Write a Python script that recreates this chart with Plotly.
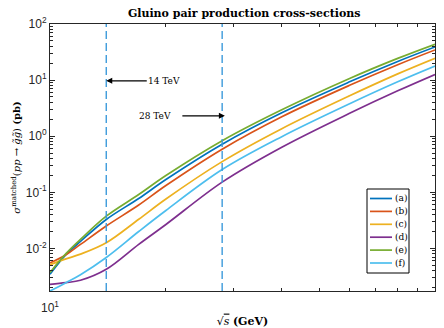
import numpy as np
import plotly.graph_objects as go

# sqrt(s) sample points
sqrt_s = [10, 11, 12, 14, 17, 20, 28, 40, 60, 80, 100]

# cross sections (pb)
sigma_a = [0.00347, 0.00773, 0.0133, 0.0328, 0.0774, 0.169, 0.721, 2.62, 9.31, 21.5, 39.0]
sigma_b = [0.0055, 0.00773, 0.01178, 0.0251, 0.0593, 0.132, 0.587, 2.22, 8.07, 18.8, 34.5]
sigma_c = [0.00513, 0.00650, 0.00790, 0.0126, 0.0330, 0.0759, 0.352, 1.36, 5.25, 12.9, 24.5]
sigma_d = [0.00229, 0.00245, 0.0027, 0.00424, 0.0118, 0.0267, 0.152, 0.637, 2.56, 6.44, 12.6]
sigma_e = [0.00372, 0.00805, 0.01445, 0.0375, 0.0912, 0.199, 0.832, 2.96, 10.7, 24.4, 43.6]
sigma_f = [0.00174, 0.00245, 0.0034, 0.0069, 0.02, 0.0474, 0.254, 0.98, 3.78, 9.31, 17.8]

series_names = ["(a)", "(b)", "(c)", "(d)", "(e)", "(f)"]
series_values = [sigma_a, sigma_b, sigma_c, sigma_d, sigma_e, sigma_f]
series_colors = ["#0072BD", "#D95319", "#EDB120", "#7E2F8E", "#77AC30", "#4DBEEE"]

# reference energies (vertical dashed lines)
vline_x = [14, 28]
vline_labels = ["14 TeV", "28 TeV"]
arrow_y = [9.7, 2.31]

y_min, y_max = 0.00174, 100
x_min, x_max = 10, 100

y_tickvals = [0.01, 0.1, 1, 10, 100]
y_ticktext = ["10<sup>-2</sup>", "10<sup>-1</sup>", "10<sup>0</sup>", "10<sup>1</sup>", "10<sup>2</sup>"]
x_tickvals = [10, 100]
x_ticktext = ["10<sup>1</sup>", "10<sup>2</sup>"]

y_minor = [m * 10.0 ** k for k in range(-3, 2) for m in range(2, 10)]
y_minor = [v for v in y_minor if y_min <= v <= y_max]
x_minor = [m * 10 for m in range(2, 10)]

serif = "DejaVu Serif"
sans = "Liberation Sans"
axis_col = "#262626"

W, H = 444, 328
ML, MR, MT, MB = 50, 9, 24, 37
PW, PH = W - ML - MR, H - MT - MB

fig = go.Figure()
for name, vals, col in zip(series_names, series_values, series_colors):
    fig.add_trace(go.Scatter(x=sqrt_s, y=vals, mode="lines", name=name, showlegend=False,
                             line=dict(color=col, width=1.7, shape="spline", smoothing=1.0)))

for vx in vline_x:
    fig.add_trace(go.Scatter(x=[vx, vx], y=[y_min, y_max], mode="lines", showlegend=False,
                             line=dict(color="#3D9BDB", width=1.4, dash="8px,4px"),
                             hoverinfo="skip"))

# arrows with labels
fig.add_annotation(x=np.log10(vline_x[0]), y=np.log10(arrow_y[0]), xref="x", yref="y",
                   text=vline_labels[0], showarrow=True, ax=58, ay=0,
                   arrowhead=2, arrowsize=1, arrowwidth=1.2, arrowcolor="black",
                   font=dict(family=serif, size=9, color="black"))
fig.add_annotation(x=np.log10(vline_x[1]) + 0.007, y=np.log10(arrow_y[1]), xref="x", yref="y",
                   text=vline_labels[1], showarrow=True, ax=-70, ay=0, startstandoff=10,
                   arrowhead=2, arrowsize=1, arrowwidth=1.2, arrowcolor="black",
                   font=dict(family=serif, size=9, color="black"))

# custom compact legend (pixel positions converted to paper coords)
def px2paper_x(px):
    return (px - ML) / PW

def px2paper_y(py):
    return (H - MB - py) / PH

fig.add_shape(type="rect", xref="paper", yref="paper",
              x0=px2paper_x(367), x1=px2paper_x(409), y0=px2paper_y(273), y1=px2paper_y(189),
              line=dict(color="black", width=1), fillcolor="white", layer="above")
for i, (name, col) in enumerate(zip(series_names, series_colors)):
    ry = 198.5 + i * 12.9
    fig.add_shape(type="line", xref="paper", yref="paper",
                  x0=px2paper_x(370), x1=px2paper_x(392), y0=px2paper_y(ry), y1=px2paper_y(ry),
                  line=dict(color=col, width=1.7), layer="above")
    fig.add_annotation(x=px2paper_x(393), y=px2paper_y(ry), xref="paper", yref="paper",
                       text=name, showarrow=False, xanchor="left", yanchor="middle",
                       font=dict(family=serif, size=9, color="black"))

common = dict(showline=True, linecolor=axis_col, linewidth=1, mirror="allticks",
              ticks="inside", ticklen=5, tickcolor=axis_col, showgrid=False, zeroline=False,
              tickfont=dict(family=sans, size=12, color=axis_col))

fig.update_xaxes(type="log", range=[np.log10(x_min), np.log10(x_max)],
                 tickmode="array", tickvals=x_tickvals, ticktext=x_ticktext,
                 ticklabelstandoff=6,
                 minor=dict(tickvals=x_minor, ticks="inside", ticklen=3, tickcolor=axis_col, showgrid=False),
                 title=dict(text="√<span style='text-decoration:overline'><i>s</i></span> <b>(GeV)</b>",
                            font=dict(family=serif, size=11, color="black"), standoff=2),
                 **common)
fig.update_yaxes(type="log", range=[np.log10(y_min), np.log10(y_max)],
                 tickmode="array", tickvals=y_tickvals, ticktext=y_ticktext,
                 minor=dict(tickvals=y_minor, ticks="inside", ticklen=3, tickcolor=axis_col, showgrid=False),
                 title=dict(text="<i>σ</i><sup>matched</sup>(<i>pp</i> → <i>g̃g̃</i>) <b>(pb)</b>",
                            font=dict(family=serif, size=10, color="black"), standoff=3),
                 **common)

fig.update_layout(
    width=W, height=H,
    margin=dict(l=ML, r=MR, t=MT, b=MB, autoexpand=False),
    paper_bgcolor="white", plot_bgcolor="white",
    title=dict(text="<b>Gluino pair production cross-sections</b>", x=0.55, xanchor="center",
               y=1 - 13 / H, yanchor="middle", yref="container",
               font=dict(family=serif, size=11, color="black")),
    showlegend=False,
)

fig.write_html("out.html", config={"displayModeBar": False},
               post_script="document.body.style.margin='0';document.body.style.overflow='hidden';")
